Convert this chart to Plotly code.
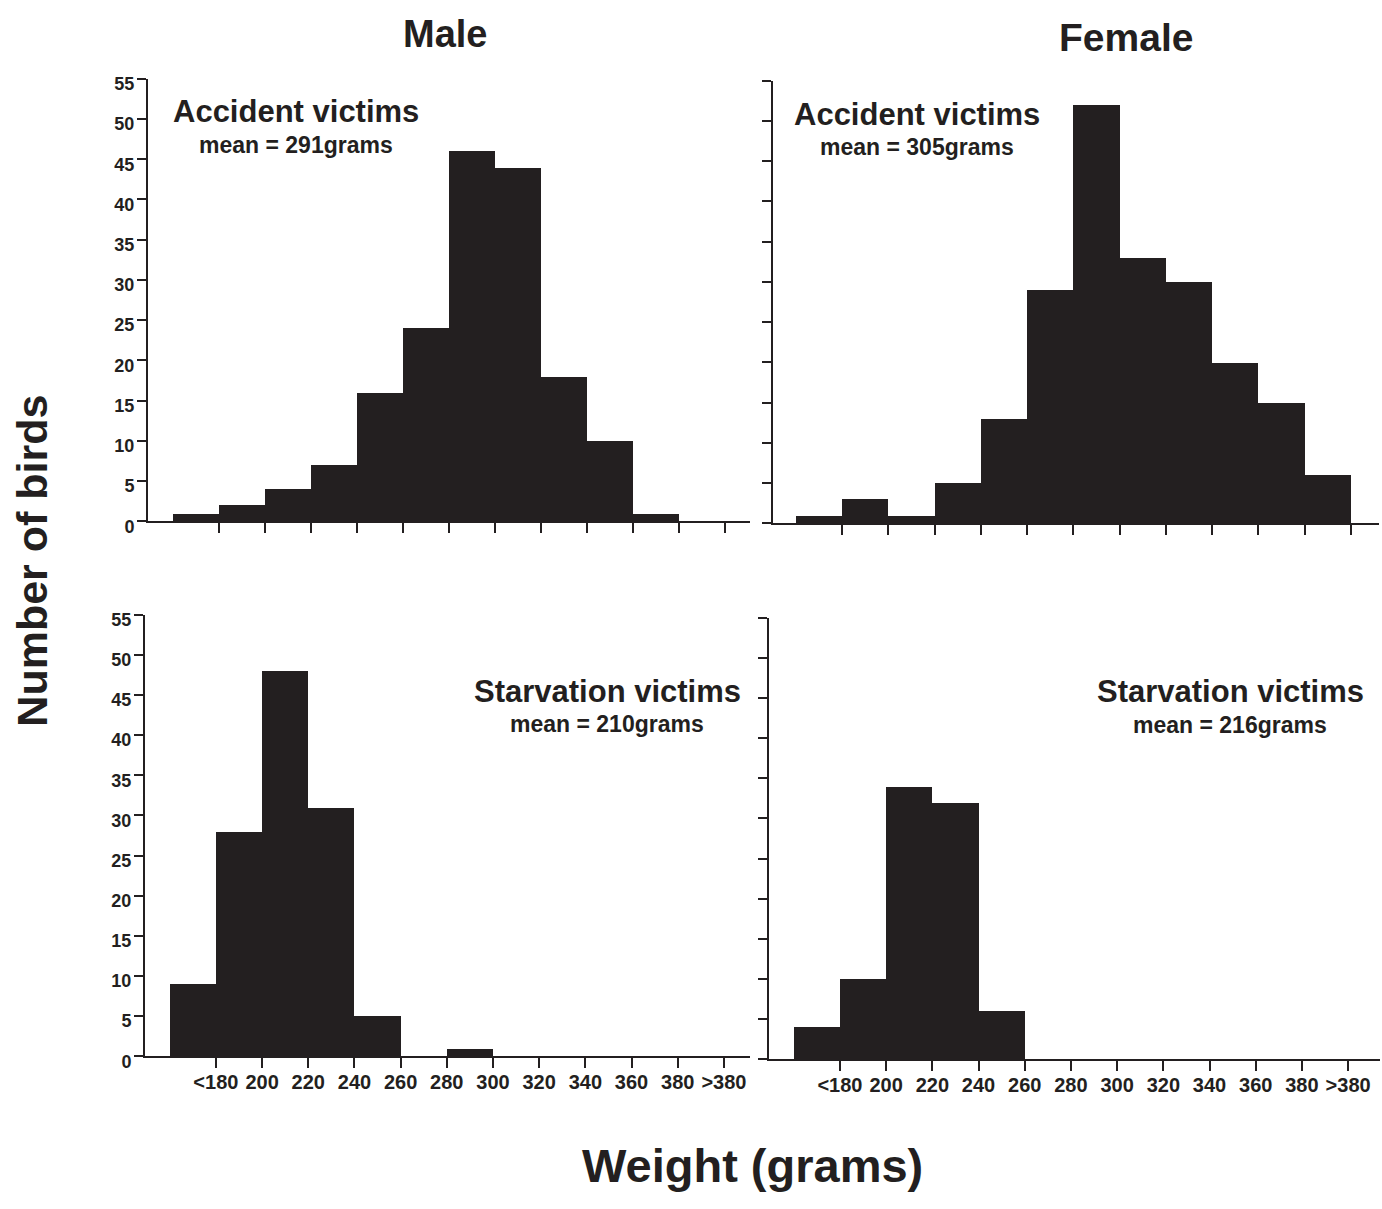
import plotly.graph_objects as go

# ---- data ----
bin_centers = [170, 190, 210, 230, 250, 270, 290, 310, 330, 350, 370, 390]
tick_vals = [180, 200, 220, 240, 260, 280, 300, 320, 340, 360, 380, 400]
tick_text = ["<180", "200", "220", "240", "260", "280", "300", "320", "340", "360", "380", ">380"]
y_ticks = [0, 5, 10, 15, 20, 25, 30, 35, 40, 45, 50, 55]

male_accident = [1, 2, 4, 7, 16, 24, 46, 44, 18, 10, 1, 0]
female_accident = [1, 3, 1, 5, 13, 29, 52, 33, 30, 20, 15, 6]
male_starvation = [9, 28, 48, 31, 5, 0, 1, 0, 0, 0, 0, 0]
female_starvation = [4, 10, 34, 32, 6, 0, 0, 0, 0, 0, 0, 0]

W, H = 1382, 1209
INK = "#231f20"
FONT = "Liberation Sans, Arial, sans-serif"


def px_x(p):
    return p / W


def px_y(p):
    return 1 - p / H


panels = [
    (male_accident, "", 148, 750, [149.1, 410.9], 525, 75, True, False),
    (female_accident, "2", 773, 1379, [150.2, 412.1], 527, 77, False, False),
    (male_starvation, "3", 145, 750, [149.3, 411.3], 1069, 620, True, True),
    (female_starvation, "4", 769, 1380, [149.3, 413.8], 1072, 623, False, True),
]

fig = go.Figure()
layout_axes = {}
for vals, k, xl, xr, xrng, yb, yt, show_y, show_x in panels:
    fig.add_trace(go.Bar(
        x=bin_centers, y=vals, width=20,
        marker=dict(color=INK, line=dict(width=0)),
        xaxis="x" + k, yaxis="y" + k, showlegend=False, hoverinfo="x+y",
    ))
    layout_axes["xaxis" + k] = dict(
        domain=[px_x(xl), px_x(xr)], range=xrng, anchor="y" + k,
        showline=True, linecolor=INK, linewidth=2, showgrid=False, zeroline=False,
        ticks="outside", ticklen=10, tickwidth=2, tickcolor=INK,
        tickvals=tick_vals, ticktext=tick_text, showticklabels=show_x,
        ticklabelstandoff=-3,
        tickfont=dict(family=FONT, size=20, color=INK, weight="bold"),
    )
    layout_axes["yaxis" + k] = dict(
        domain=[px_y(yb), px_y(yt)], range=[0, 55], anchor="x" + k,
        showline=True, linecolor=INK, linewidth=2, showgrid=False, zeroline=False,
        ticks="outside", ticklen=9, tickwidth=2, tickcolor=INK,
        tickvals=y_ticks, showticklabels=show_y,
        ticklabelstandoff=-1, ticklabelshift=5,
        tickfont=dict(family=FONT, size=18, color=INK, weight="bold"),
    )

annots = [
    ("Male", 445, 29, 38, 0),
    ("Female", 1126, 33, 39, 0),
    ("Number of birds", 32, 565, 43, -90),
    ("Weight (grams)", 752, 1180, 47, 0),
    ("Accident victims", 296, 108, 31, 0),
    ("mean = 291grams", 296, 142, 23, 0),
    ("Accident victims", 917, 111, 31, 0),
    ("mean = 305grams", 917, 144, 23, 0),
    ("Starvation victims", 607, 698, 31, 0),
    ("mean = 210grams", 607, 731, 23, 0),
    ("Starvation victims", 1230, 698, 31, 0),
    ("mean = 216grams", 1230, 732, 23, 0),
]
annotations = []
for text, x, y, size, ang in annots:
    annotations.append(dict(
        text=text, x=px_x(x), y=px_y(y), xref="paper", yref="paper",
        xanchor="center", yanchor="middle", showarrow=False, textangle=ang,
        font=dict(family=FONT, size=size, color=INK, weight="bold"),
    ))

fig.update_layout(
    width=W, height=H, margin=dict(l=0, r=0, t=0, b=0),
    paper_bgcolor="white", plot_bgcolor="white",
    bargap=0, showlegend=False, annotations=annotations,
    font=dict(family=FONT, color=INK),
    **layout_axes,
)

fig.write_html(
    "out.html",
    config={"displayModeBar": False},
    post_script="document.body.style.margin='0';document.body.style.overflow='hidden';",
)
